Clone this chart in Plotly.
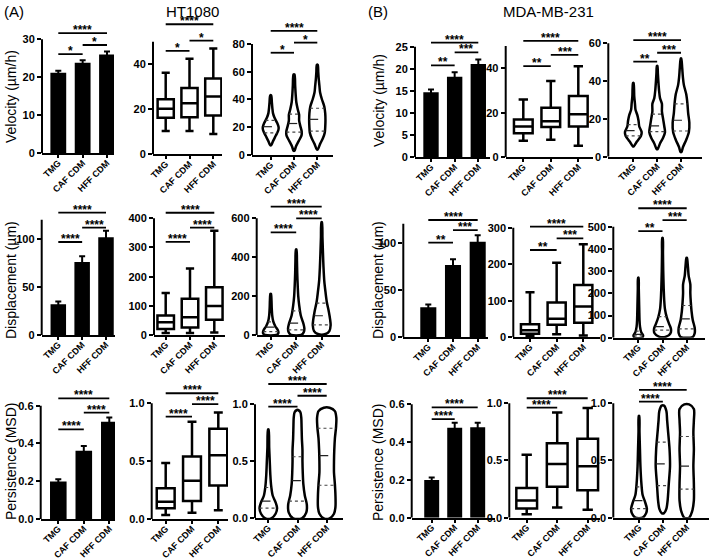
import numpy as np
import plotly.graph_objects as go

W, H = 709, 560
FONT = "Liberation Sans, Arial, sans-serif"
CATEGORIES = ["TMG", "CAF CDM", "HFF CDM"]

# ---------------- Bar data (mean, SEM) ----------------
HT_VEL_MEAN = [21.2, 23.8, 26.0]
HT_VEL_SEM = [0.5, 0.7, 0.8]
HT_DISP_MEAN = [32.0, 76.0, 101.7]
HT_DISP_SEM = [3.0, 6.0, 7.0]
HT_PERS_MEAN = [0.198, 0.362, 0.515]
HT_PERS_SEM = [0.012, 0.024, 0.023]
MDA_VEL_MEAN = [14.7, 18.2, 21.1]
MDA_VEL_SEM = [0.6, 1.0, 1.0]
MDA_DISP_MEAN = [31.7, 76.4, 101.0]
MDA_DISP_SEM = [3.0, 6.0, 7.0]
MDA_PERS_MEAN = [0.200, 0.476, 0.478]
MDA_PERS_SEM = [0.013, 0.027, 0.025]

# ---------------- Box data: [lower whisker, Q1, median, Q3, upper whisker] ----------------
HT_VEL_BOX = [[10.4, 16.2, 20.2, 24.5, 36.2], [10.4, 16.5, 22.7, 29.5, 42.5], [9.0, 17.2, 25.7, 33.7, 47.0]]
HT_DISP_BOX = [[7, 21, 44, 67, 144], [7, 26, 61, 124, 228], [9, 52, 99, 164, 357]]
HT_PERS_BOX = [[0.035, 0.092, 0.15, 0.265, 0.485], [0.055, 0.155, 0.33, 0.54, 0.84], [0.075, 0.29, 0.55, 0.78, 0.92]]
MDA_VEL_BOX = [[7.4, 10.8, 13.8, 17.0, 26.0], [7.9, 13.6, 16.2, 22.3, 34.3], [5.2, 13.8, 19.3, 27.5, 40.9]]
MDA_DISP_BOX = [[4, 10, 19, 36, 123], [8, 34, 51, 95, 204], [5, 40, 84, 143, 255]]
MDA_PERS_BOX = [[0.03, 0.08, 0.15, 0.26, 0.55], [0.09, 0.27, 0.47, 0.65, 0.92], [0.07, 0.24, 0.45, 0.69, 0.96]]

# ---------------- Violin profiles (value levels, relative half-widths) and quartiles ----------------
HT_VEL_VY = [[7, 10, 14, 18, 20, 23, 27, 30, 34, 38, 43],
             [3, 6, 10, 14, 17, 21, 25, 29, 33, 38, 44, 50, 58],
             [4, 8, 12, 16, 20, 25, 30, 35, 40, 45, 50, 55, 60, 65]]
HT_VEL_VW = [[0.02, 0.10, 0.22, 0.33, 0.34, 0.28, 0.16, 0.10, 0.07, 0.05, 0.02],
             [0.02, 0.08, 0.20, 0.32, 0.33, 0.27, 0.22, 0.22, 0.16, 0.10, 0.07, 0.05, 0.02],
             [0.02, 0.12, 0.24, 0.32, 0.34, 0.35, 0.34, 0.30, 0.20, 0.12, 0.09, 0.06, 0.04, 0.02]]
HT_VEL_VQ = [[16.0, 20.4, 24.9], [16.5, 22.7, 29.5], [17.2, 25.7, 33.7]]

HT_DISP_VY = [[0, 10, 25, 45, 70, 100, 140, 180, 212],
              [0, 15, 35, 60, 100, 150, 200, 250, 320, 380, 440],
              [5, 20, 50, 80, 120, 170, 220, 280, 350, 420, 500, 580]]
HT_DISP_VW = [[0.22, 0.30, 0.28, 0.18, 0.10, 0.06, 0.04, 0.03, 0.01],
              [0.20, 0.30, 0.32, 0.28, 0.18, 0.12, 0.08, 0.06, 0.04, 0.03, 0.01],
              [0.15, 0.30, 0.35, 0.33, 0.28, 0.20, 0.15, 0.10, 0.07, 0.05, 0.03, 0.01]]
HT_DISP_VQ = [[17, 40, 67], [26, 61, 124], [52, 99, 164]]

HT_PERS_VY = [[0, 0.04, 0.09, 0.14, 0.2, 0.28, 0.38, 0.5, 0.62, 0.78],
              [0, 0.05, 0.12, 0.2, 0.3, 0.4, 0.5, 0.6, 0.7, 0.8, 0.88, 0.93, 0.95],
              [0, 0.04, 0.1, 0.2, 0.3, 0.4, 0.5, 0.6, 0.7, 0.8, 0.88, 0.94, 0.97]]
HT_PERS_VW = [[0.10, 0.25, 0.30, 0.25, 0.15, 0.10, 0.07, 0.05, 0.03, 0.01],
              [0.15, 0.30, 0.32, 0.25, 0.20, 0.18, 0.17, 0.17, 0.15, 0.14, 0.13, 0.10, 0.02],
              [0.10, 0.25, 0.30, 0.30, 0.28, 0.25, 0.25, 0.26, 0.28, 0.32, 0.33, 0.28, 0.10]]
HT_PERS_VQ = [[0.09, 0.15, 0.27], [0.15, 0.33, 0.54], [0.29, 0.55, 0.79]]

MDA_VEL_VY = [[5.5, 8, 11, 13, 16, 19, 22, 25, 28, 32, 36, 39],
              [4, 7, 10, 13, 16, 20, 24, 28, 31, 35, 40, 44, 48],
              [2.5, 5, 9, 13, 18, 23, 28, 33, 38, 42, 47, 52]]
MDA_VEL_VW = [[0.02, 0.15, 0.32, 0.35, 0.25, 0.22, 0.17, 0.09, 0.07, 0.04, 0.03, 0.01],
              [0.02, 0.12, 0.25, 0.33, 0.30, 0.25, 0.20, 0.20, 0.12, 0.08, 0.05, 0.03, 0.01],
              [0.02, 0.08, 0.22, 0.33, 0.35, 0.30, 0.27, 0.22, 0.12, 0.08, 0.05, 0.01]]
MDA_VEL_VQ = [[11.0, 13.8, 17.0], [13.3, 16.3, 22.5], [13.6, 19.3, 28.0]]

MDA_DISP_VY = [[0, 10, 25, 50, 80, 120, 170, 220, 270],
               [5, 20, 40, 60, 90, 130, 170, 220, 300, 380, 450],
               [3, 20, 45, 80, 120, 160, 200, 240, 280, 320, 360]]
MDA_DISP_VW = [[0.15, 0.20, 0.12, 0.07, 0.05, 0.04, 0.03, 0.02, 0.01],
               [0.15, 0.33, 0.35, 0.28, 0.18, 0.10, 0.07, 0.05, 0.03, 0.02, 0.01],
               [0.25, 0.33, 0.33, 0.25, 0.20, 0.17, 0.15, 0.15, 0.08, 0.05, 0.01]]
MDA_DISP_VQ = [[8, 15, 30], [34, 50, 95], [40, 85, 145]]

MDA_PERS_VY = [[0, 0.04, 0.08, 0.14, 0.2, 0.3, 0.45, 0.6, 0.75, 0.89],
               [0.04, 0.08, 0.15, 0.3, 0.45, 0.6, 0.75, 0.85, 0.93, 0.98],
               [0, 0.05, 0.15, 0.3, 0.45, 0.6, 0.75, 0.85, 0.95, 0.99]]
MDA_PERS_VW = [[0.15, 0.30, 0.33, 0.25, 0.15, 0.10, 0.06, 0.04, 0.02, 0.01],
               [0.05, 0.15, 0.20, 0.25, 0.30, 0.28, 0.22, 0.18, 0.15, 0.05],
               [0.10, 0.22, 0.30, 0.30, 0.28, 0.30, 0.28, 0.30, 0.30, 0.10]]
MDA_PERS_VQ = [[0.08, 0.15, 0.27], [0.28, 0.47, 0.66], [0.25, 0.45, 0.71]]

# ---------------- Significance brackets: (group i, group j, level, label) ----------------
HT_VEL_BAR_SIG = [(0, 2, 31.6, "****"), (1, 2, 28.5, "*"), (0, 1, 26.1, "*")]
HT_VEL_BOX_SIG = [(0, 2, 57.8, "****"), (1, 2, 50.5, "*"), (0, 1, 46.0, "*")]
HT_VEL_VIO_SIG = [(0, 2, 89.4, "****"), (1, 2, 81.0, "*"), (0, 1, 73.7, "*")]
HT_DISP_BAR_SIG = [(0, 2, 127.4, "****"), (1, 2, 111.8, "****"), (0, 1, 96.9, "****")]
HT_DISP_BOX_SIG = [(0, 2, 419, "****"), (1, 2, 368, "****"), (0, 1, 319, "****")]
HT_DISP_VIO_SIG = [(0, 2, 660, "****"), (1, 2, 600, "****"), (0, 1, 528, "****")]
HT_PERS_BAR_SIG = [(0, 2, 0.639, "****"), (1, 2, 0.563, "****"), (0, 1, 0.475, "****")]
HT_PERS_BOX_SIG = [(0, 2, 1.087, "****"), (1, 2, 0.992, "****"), (0, 1, 0.885, "****")]
HT_PERS_VIO_SIG = [(0, 2, 1.178, "****"), (1, 2, 1.075, "****"), (0, 1, 0.98, "****")]
MDA_VEL_BAR_SIG = [(0, 2, 25.9, "****"), (1, 2, 23.7, "***"), (0, 1, 20.8, "**")]
MDA_VEL_BOX_SIG = [(0, 2, 52.3, "****"), (1, 2, 46.0, "***"), (0, 1, 41.0, "**")]
MDA_VEL_VIO_SIG = [(0, 2, 61.7, "****"), (1, 2, 55.0, "***"), (0, 1, 50.3, "**")]
MDA_DISP_BAR_SIG = [(0, 2, 124, "****"), (1, 2, 113.4, "***"), (0, 1, 100, "**")]
MDA_DISP_BOX_SIG = [(0, 2, 303, "****"), (1, 2, 271, "***"), (0, 1, 239, "**")]
MDA_DISP_VIO_SIG = [(0, 2, 583, "****"), (1, 2, 530, "***"), (0, 1, 480, "**")]
MDA_PERS_BAR_SIG = [(0, 2, 0.584, "****"), (0, 1, 0.522, "****")]
MDA_PERS_BOX_SIG = [(0, 2, 1.044, "****"), (0, 1, 0.962, "****")]
MDA_PERS_VIO_SIG = [(0, 2, 1.117, "****"), (0, 1, 1.015, "****")]

# ---------------- Axis ticks ----------------
VEL_HT_BAR_TICKS = [0, 10, 20, 30]
VEL_HT_BOX_TICKS = [0, 20, 40]
VEL_HT_VIO_TICKS = [0, 20, 40, 60, 80]
VEL_MDA_BAR_TICKS = [0, 5, 10, 15, 20, 25]
VEL_MDA_BOX_TICKS = [0, 20, 40]
VEL_MDA_VIO_TICKS = [0, 20, 40, 60]
DISP_BAR_TICKS = [0, 50, 100]
DISP_HT_BOX_TICKS = [0, 100, 200, 300, 400]
DISP_HT_VIO_TICKS = [0, 200, 400, 600]
DISP_MDA_BOX_TICKS = [0, 100, 200, 300]
DISP_MDA_VIO_TICKS = [0, 100, 200, 300, 400, 500]
PERS_BAR_TICKS = [0.0, 0.2, 0.4, 0.6]
PERS_BOX_TICKS = [0.0, 0.5, 1.0]

# ---------------- Layout geometry (pixels): x_left, x_right, cat0 centre, cat2 centre, y_zero, y_ref_px, ref value ----------------
panels = [
    # Row 1
    dict(kind="bar", mean=HT_VEL_MEAN, sem=HT_VEL_SEM, sig=HT_VEL_BAR_SIG, ticks=VEL_HT_BAR_TICKS, fmt="{:g}", top=30,
         geom=(42, 114, 58.3, 107, 153.3, 39.3, 30), ytitle=("Velocity (µm/h)", 11, 97)),
    dict(kind="box", box=HT_VEL_BOX, sig=HT_VEL_BOX_SIG, ticks=VEL_HT_BOX_TICKS, fmt="{:g}", top=50,
         geom=(153, 222, 165.7, 213.3, 154.3, 64.3, 40)),
    dict(kind="violin", vy=HT_VEL_VY, vw=HT_VEL_VW, vq=HT_VEL_VQ, sig=HT_VEL_VIO_SIG, ticks=VEL_HT_VIO_TICKS, fmt="{:g}", top=80,
         geom=(252, 333, 270.7, 317.3, 155, 44, 80)),
    dict(kind="bar", mean=MDA_VEL_MEAN, sem=MDA_VEL_SEM, sig=MDA_VEL_BAR_SIG, ticks=VEL_MDA_BAR_TICKS, fmt="{:g}", top=25,
         geom=(415, 490, 431, 478.3, 157.3, 46.7, 25), ytitle=("Velocity (µm/h)", 379, 100)),
    dict(kind="box", box=MDA_VEL_BOX, sig=MDA_VEL_BOX_SIG, ticks=VEL_MDA_BOX_TICKS, fmt="{:g}", top=50,
         geom=(505.7, 593, 523.3, 578.3, 157.3, 68.3, 40)),
    dict(kind="violin", vy=MDA_VEL_VY, vw=MDA_VEL_VW, vq=MDA_VEL_VQ, sig=MDA_VEL_VIO_SIG, ticks=VEL_MDA_VIO_TICKS, fmt="{:g}", top=60,
         geom=(608.3, 702, 633.3, 681, 156.7, 43.3, 60)),
    # Row 2
    dict(kind="bar", mean=HT_DISP_MEAN, sem=HT_DISP_SEM, sig=HT_DISP_BAR_SIG, ticks=DISP_BAR_TICKS, fmt="{:g}", top=120,
         geom=(41.7, 115, 58.3, 106, 335, 239, 100), ytitle=("Displacement (µm)", 11, 280)),
    dict(kind="box", box=HT_DISP_BOX, sig=HT_DISP_BOX_SIG, ticks=DISP_HT_BOX_TICKS, fmt="{:g}", top=400,
         geom=(154, 225, 165.7, 214.3, 335, 218.3, 400)),
    dict(kind="violin", vy=HT_DISP_VY, vw=HT_DISP_VW, vq=HT_DISP_VQ, sig=HT_DISP_VIO_SIG, ticks=DISP_HT_VIO_TICKS, fmt="{:g}", top=600,
         geom=(256.7, 340, 270.7, 321.7, 335, 218.3, 600)),
    dict(kind="bar", mean=MDA_DISP_MEAN, sem=MDA_DISP_SEM, sig=MDA_DISP_BAR_SIG, ticks=DISP_BAR_TICKS, fmt="{:g}", top=120,
         geom=(403.3, 488, 428.3, 477.7, 337.3, 242.7, 100), ytitle=("Displacement (µm)", 378, 280)),
    dict(kind="box", box=MDA_DISP_BOX, sig=MDA_DISP_BOX_SIG, ticks=DISP_MDA_BOX_TICKS, fmt="{:g}", top=300,
         geom=(513.3, 600, 530, 583.3, 337.3, 227.7, 300)),
    dict(kind="violin", vy=MDA_DISP_VY, vw=MDA_DISP_VW, vq=MDA_DISP_VQ, sig=MDA_DISP_VIO_SIG, ticks=DISP_MDA_VIO_TICKS, fmt="{:g}", top=500,
         geom=(613.3, 705, 638.3, 686.7, 337.7, 226.7, 500)),
    # Row 3
    dict(kind="bar", mean=HT_PERS_MEAN, sem=HT_PERS_SEM, sig=HT_PERS_BAR_SIG, ticks=PERS_BAR_TICKS, fmt="{:.1f}", top=0.6,
         geom=(40.7, 115, 58.3, 109.3, 519, 405.7, 0.6), ytitle=("Persistence (MSD)", 11, 462)),
    dict(kind="box", box=HT_PERS_BOX, sig=HT_PERS_BOX_SIG, ticks=PERS_BOX_TICKS, fmt="{:.1f}", top=1.0,
         geom=(151.7, 228, 165.7, 218.3, 519, 403.3, 1.0)),
    dict(kind="violin", vy=HT_PERS_VY, vw=HT_PERS_VW, vq=HT_PERS_VQ, sig=HT_PERS_VIO_SIG, ticks=PERS_BOX_TICKS, fmt="{:.1f}", top=1.0,
         geom=(255, 343, 268.3, 326.7, 518.3, 404.3, 1.0)),
    dict(kind="bar", mean=MDA_PERS_MEAN, sem=MDA_PERS_SEM, sig=MDA_PERS_BAR_SIG, ticks=PERS_BAR_TICKS, fmt="{:.1f}", top=0.6,
         geom=(411.7, 495, 431.7, 477.7, 517.7, 404.3, 0.6), ytitle=("Persistence (MSD)", 378, 462)),
    dict(kind="box", box=MDA_PERS_BOX, sig=MDA_PERS_BOX_SIG, ticks=PERS_BOX_TICKS, fmt="{:.1f}", top=1.0,
         geom=(509.3, 600, 526.7, 587.7, 517.7, 403.3, 1.0)),
    dict(kind="violin", vy=MDA_PERS_VY, vw=MDA_PERS_VW, vq=MDA_PERS_VQ, sig=MDA_PERS_VIO_SIG, ticks=PERS_BOX_TICKS, fmt="{:.1f}", top=1.0,
         geom=(613.3, 709, 639, 686.7, 517.7, 403.3, 1.0)),
]

fig = go.Figure()
layout = dict(width=W, height=H, margin=dict(l=0, r=0, t=0, b=0, pad=0, autoexpand=False), paper_bgcolor="white",
              plot_bgcolor="rgba(0,0,0,0)", showlegend=False, font=dict(family=FONT, color="black"))
shapes, annotations = [], []
POS = [0, 1, 2]

for n, p in enumerate(panels, start=1):
    xa = "x" if n == 1 else f"x{n}"
    ya = "y" if n == 1 else f"y{n}"
    xl, xr, c0, c2, y0, ref_px, ref_val = p["geom"]
    s = (c2 - c0) / 2.0
    xrange = [(xl - c0) / s, (xr - c0) / s]
    ppu = (y0 - ref_px) / ref_val
    top_val = max([p["top"]] + [g[2] for g in p["sig"]]) + 4.0 / ppu
    dom_top_px = y0 - top_val * ppu
    layout["xaxis" if n == 1 else f"xaxis{n}"] = dict(
        domain=[xl / W, xr / W], anchor=ya, range=xrange, showgrid=False, zeroline=False,
        showline=True, linecolor="black", linewidth=2, ticks="outside", ticklen=3, tickwidth=2,
        tickcolor="black", tickvals=POS, ticktext=CATEGORIES, tickangle=-45, automargin=False,
        ticklabelstandoff=-4,
        tickfont=dict(family=FONT, size=9, color="black", weight="bold"), fixedrange=True)
    layout["yaxis" if n == 1 else f"yaxis{n}"] = dict(
        domain=[1 - y0 / H, 1 - dom_top_px / H], anchor=xa, range=[0, top_val], showgrid=False,
        zeroline=False, showline=False, ticks="outside", ticklen=4, tickwidth=2, tickcolor="black",
        tickvals=p["ticks"], ticktext=[p["fmt"].format(t) for t in p["ticks"]], automargin=False,
        tickfont=dict(family=FONT, size=11, color="black", weight="bold"), fixedrange=True)
    # y axis line only up to the top value
    shapes.append(dict(type="line", xref=f"{xa} domain", yref=ya, x0=0, x1=0, y0=0, y1=p["top"],
                       line=dict(color="black", width=2)))

    if p["kind"] == "bar":
        fig.add_trace(go.Bar(x=POS, y=p["mean"], width=0.65, marker=dict(color="black", line=dict(width=0)),
                             error_y=dict(type="data", array=p["sem"], color="black", thickness=2, width=3),
                             xaxis=xa, yaxis=ya))
    elif p["kind"] == "box":
        b = p["box"]
        fig.add_trace(go.Box(x=POS, lowerfence=[r[0] for r in b], q1=[r[1] for r in b],
                             median=[r[2] for r in b], q3=[r[3] for r in b], upperfence=[r[4] for r in b],
                             width=0.68, whiskerwidth=0.5, fillcolor="white", boxpoints=False,
                             line=dict(color="black", width=2.5), xaxis=xa, yaxis=ya))
    else:
        for i in range(3):
            ys = np.array(p["vy"][i], dtype=float)
            ws = np.array(p["vw"][i], dtype=float)
            xs = np.concatenate([i + ws, (i - ws)[::-1], [i + ws[0]]])
            yy = np.concatenate([ys, ys[::-1], [ys[0]]])
            fig.add_trace(go.Scatter(x=xs, y=yy, mode="lines", fill="toself", fillcolor="white",
                                     line=dict(color="black", width=2.5, shape="spline", smoothing=0.8),
                                     xaxis=xa, yaxis=ya, hoverinfo="skip"))
            for k, q in enumerate(p["vq"][i]):
                hw = float(np.interp(q, ys, ws))
                fig.add_trace(go.Scatter(x=[i - hw, i + hw], y=[q, q], mode="lines",
                                         line=dict(color="#222222" if k == 1 else "#444444", width=1.2,
                                                   dash="dash" if k == 1 else "dot"),
                                         xaxis=xa, yaxis=ya, hoverinfo="skip"))

    # significance brackets
    sx, sy = [], []
    for (i, j, lvl, lab) in p["sig"]:
        sx += [i, j, None]
        sy += [lvl, lvl, None]
        annotations.append(dict(x=(i + j) / 2.0, y=lvl, xref=xa, yref=ya, text=lab, showarrow=False,
                                yanchor="bottom", yshift=-6,
                                font=dict(family=FONT, size=12, color="black", weight="bold")))
    fig.add_trace(go.Scatter(x=sx, y=sy, mode="lines", line=dict(color="black", width=1.8),
                             xaxis=xa, yaxis=ya, hoverinfo="skip"))

    if "ytitle" in p:
        t, tx, ty = p["ytitle"]
        annotations.append(dict(x=tx / W, y=1 - ty / H, xref="paper", yref="paper", text=t, textangle=-90,
                                showarrow=False, xanchor="center", yanchor="middle",
                                font=dict(family=FONT, size=14, color="black")))

for txt, x, anchor in [("(A)", 2, "left"), ("HT1080", 192, "center"), ("(B)", 366, "left"), ("MDA-MB-231", 548, "center")]:
    annotations.append(dict(x=x / W, y=1 - 11 / H, xref="paper", yref="paper", text=txt, showarrow=False,
                            xanchor=anchor, yanchor="middle", font=dict(family=FONT, size=15, color="black")))

layout["shapes"] = shapes
layout["annotations"] = annotations
fig.update_layout(**layout)
fig.write_html("out.html", config={"displayModeBar": False, "staticPlot": True},
               post_script="document.body.style.margin='0';document.body.style.overflow='hidden';")
